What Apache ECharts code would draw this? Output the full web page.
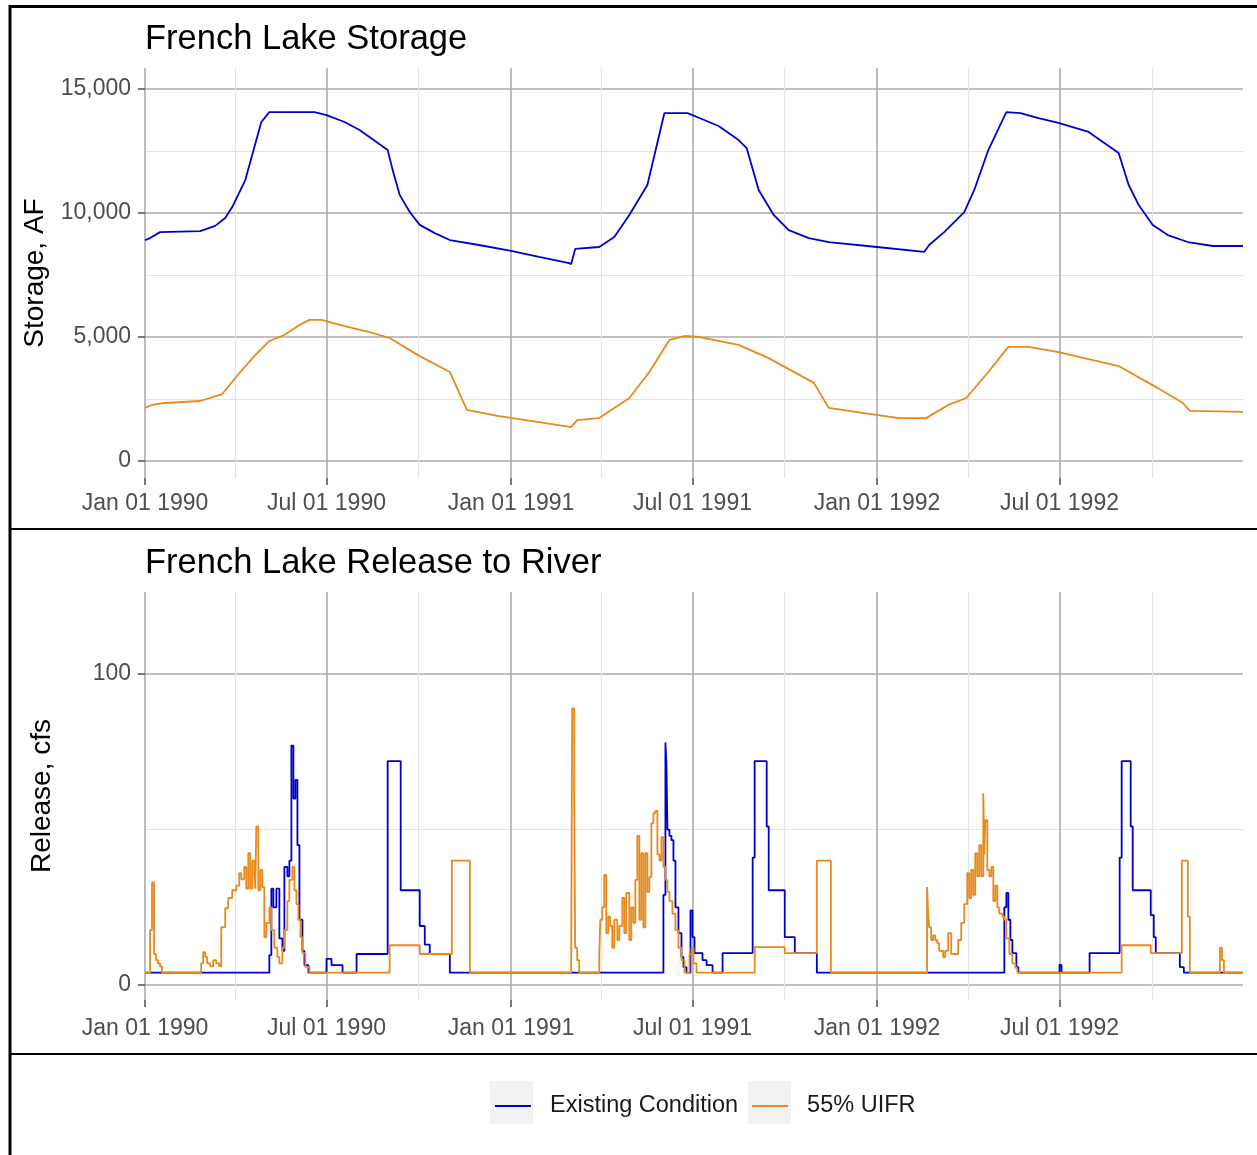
<!DOCTYPE html>
<html><head><meta charset="utf-8">
<script src="https://cdn.jsdelivr.net/npm/echarts@6/dist/echarts.min.js"></script>
<style>html,body{margin:0;padding:0;background:#fff}#c{width:1257px;height:1155px}</style>
</head><body><div id="c"></div>
<script>
// ---- DATA (x = day number counted from 1990-01-01) ----
const seriesNames = ['Existing Condition', '55% UIFR'];
const startDate = '1990-01-01';
const endDate = '1992-12-31';
const majorDateTicks = ['1990-01-01','1990-07-01','1991-01-01','1991-07-01','1992-01-01','1992-07-01'];
const minorDateTicks = ['1990-04-01','1990-10-01','1991-04-01','1991-10-01','1992-04-01','1992-10-01'];
const storageTicks = [0, 5000, 10000, 15000];
const storageMinorTicks = [2500, 7500, 12500];
const releaseTicks = [0, 100];
const releaseMinorTicks = [50];

const storageExisting = [
 [0,8900],[5,8990],[15,9230],[55,9270],[70,9480],[80,9800],[87,10240],[100,11330],[116,13670],[124,14070],
 [169,14070],[181,13950],[199,13670],[214,13350],[242,12540],[247,11730],[254,10730],[264,10040],[274,9520],
 [289,9190],[304,8910],[333,8710],[365,8470],[393,8230],[423,7980],[425,7940],[429,8550],[453,8630],[468,9030],
 [483,9920],[501,11130],[518,14030],[541,14030],[553,13830],[572,13510],[592,12940],[600,12620],[612,10930],
 [627,9920],[642,9310],[662,8990],[682,8830],[730,8630],[777,8430],[782,8710],[797,9230],[817,10040],[827,10930],
 [841,12540],[859,14070],[873,14030],[891,13830],[911,13630],[941,13270],[971,12420],[981,11130],[991,10320],
 [1005,9520],[1020,9110],[1040,8830],[1065,8670],[1095,8670]
];
const storageUIFR = [
 [0,2140],[7,2260],[20,2340],[55,2420],[77,2700],[95,3590],[110,4270],[124,4840],[139,5080],[154,5480],
 [164,5690],[176,5690],[199,5440],[224,5200],[244,4960],[274,4230],[304,3590],[321,2060],[353,1810],[393,1570],
 [425,1370],[431,1650],[453,1730],[483,2540],[503,3590],[523,4880],[538,5040],[553,5000],[592,4680],[622,4150],
 [667,3150],[682,2140],[722,1900],[752,1730],[779,1730],[801,2260],[819,2540],[841,3590],[861,4600],[881,4600],
 [911,4390],[971,3830],[1010,2940],[1035,2340],[1042,2020],[1095,1980]
];
const releaseExisting = [
 [0,4],[124,9.6],[126,31],[128,25],[131,31],[134,15],[137,11],[139,38],[142,35],[144,40],[146,77],[148,60],
 [150,66],[152,45],[154,21],[157,11],[159,6.4],[163,4],[181,8.4],[186,6.4],[197,4],[211,10],[242,72],[255,30.5],
 [274,19],[279,13],[284,10],[304,4],
 [517,29],[519,78],[520,71],[521,50],[523,48],[525,46.6],[527,40],[529,25],[532,16.7],[535,9],[537,5.8],[540,4],
 [544,24],[546,15.4],[548,10.3],[556,8],[560,6.4],[566,4],[576,10.3],[606,41],[608,72],[620,51],[622,30.5],
 [638,15.4],[648,10.3],[670,4],
 [857,25],[859,29.6],[861,21],[863,14.5],[865,10.3],[869,5.8],[871,4],[912,6.5],[914,4],[942,10.3],[972,41],
 [974,72],[983,51],[985,30.5],[1003,22.5],[1006,15.4],[1008,10.3],[1032,5.8],[1036,4],[1095,4]
];
const releaseUIFR = [
 [0,4],[5,17.7],[7,33],[9,10],[11,8],[13,7],[15,6],[17,4],[56,7],[58,10.6],[60,9],[62,7],[65,6],[68,8],[71,7],
 [74,6],[76,18.6],[80,24.7],[83,28],[87,30.5],[91,32],[94,36],[96,34],[99,38],[101,31],[103,42.4],[105,31],
 [107,40],[109,37],[110,31],[111,51],[113,30.5],[115,37],[117,31.5],[119,15.4],[121,20],[124,25],[126,17.7],
 [129,12],[132,9],[134,7],[137,12],[139,17.7],[142,27],[144,33.8],[147,38],[149,30.5],[151,26],[153,21],
 [155,15.4],[157,10.3],[160,5.8],[164,4],[244,12.8],[274,10],[306,40],[324,4],
 [425,5.8],[426,89],[428,62],[429,12],[431,8],[433,4],[453,9],[454,21],[456,25],[458,35.4],[460,16.7],[462,22],
 [464,19],[466,12],[468,21],[471,14.5],[473,19],[476,28],[478,16.7],[480,29.6],[483,14.5],[485,25],[487,20],
 [489,33.8],[491,48],[493,21],[495,42.4],[497,18.6],[499,42.4],[501,30],[503,34.7],[505,52],[507,55.3],[509,56],
 [511,42],[513,40],[515,47.6],[517,38],[519,33.8],[521,30],[523,27],[526,23],[529,17.7],[532,12],[535,8],[538,4],
 [543,10],[545,12],[547,7],[550,4],[608,12.2],[638,10.3],[670,40],[684,4],
 [780,31.5],[781,23],[782,18.6],[784,14.5],[786,16],[788,14.5],[790,13.5],[792,11],[796,9],[798,11],[801,16.7],
 [804,10],[808,10],[811,14.5],[814,20],[817,26],[820,36],[822,28],[824,37],[826,29],[828,42.4],[830,35],[832,45],
 [834,35],[836,61.7],[837,42],[838,53],[840,37],[842,35],[844,38],[846,27],[848,32],[850,25],[852,23],[855,22],
 [857,21],[859,15],[862,10],[865,7],[868,5.5],[870,4],[974,12.8],[1003,10.3],[1034,40],[1040,22],[1042,4],
 [1072,12],[1074,8],[1076,4],[1095,4]
];

// ---- helpers ----
const FONT = "'Liberation Sans', Arial, sans-serif";
const MON = ['Jan','Feb','Mar','Apr','May','Jun','Jul','Aug','Sep','Oct','Nov','Dec'];
function parseD(s){const p=s.split('-').map(Number);return new Date(p[0],p[1]-1,p[2]).getTime();}
const base = parseD(startDate);
function dayT(d){const b=new Date(base);return new Date(b.getFullYear(),b.getMonth(),b.getDate()+d).getTime();}
function fmtDate(v){const d=new Date(v);return MON[d.getMonth()]+' '+String(d.getDate()).padStart(2,'0')+' '+d.getFullYear();}
function toXY(arr){return arr.map(p=>[dayT(p[0]),p[1]]);}
const tMin = parseD(startDate), tMax = parseD(endDate);
const majT = majorDateTicks.map(parseD), minT = minorDateTicks.map(parseD);
const COLORS = ['#0000CD', '#E8891C'];
const MAJOR = '#ababab', MINOR = '#e3e3e3', TICK = '#4d4d4d', LBL = '#4d4d4d';

function xMinor(g){return {gridIndex:g,type:'value',min:tMin,max:tMax,position:'bottom',
  axisLine:{show:false,onZero:false},axisTick:{show:false,customValues:minT},
  axisLabel:{show:false,customValues:minT},splitLine:{show:true,lineStyle:{color:MINOR,width:1.2}}};}
function xMajor(g,margin){return {gridIndex:g,type:'value',min:tMin,max:tMax,position:'bottom',
  axisLine:{show:false,onZero:false},
  axisTick:{show:true,length:7,customValues:majT,lineStyle:{color:TICK,width:1.5}},
  axisLabel:{customValues:majT,formatter:fmtDate,fontSize:23,color:LBL,fontFamily:FONT,margin:margin,hideOverlap:false},
  splitLine:{show:true,lineStyle:{color:MAJOR,width:1.6}}};}
function yMinor(g,mn,mx,vals){return {gridIndex:g,type:'value',min:mn,max:mx,position:'right',
  axisLine:{show:false,onZero:false},axisTick:{show:false,customValues:vals},
  axisLabel:{show:false,customValues:vals},splitLine:{show:true,lineStyle:{color:MINOR,width:1.2}}};}
function yMajor(g,mn,mx,vals,name){return {gridIndex:g,type:'value',min:mn,max:mx,position:'left',
  name:name,nameLocation:'middle',nameGap:89,nameRotate:90,
  nameTextStyle:{fontSize:28,color:'#000',fontFamily:FONT},
  axisLine:{show:false,onZero:false},
  axisTick:{show:true,length:7,customValues:vals,lineStyle:{color:TICK,width:1.5}},
  axisLabel:{customValues:vals,formatter:v=>v.toLocaleString('en-US'),fontSize:23,color:LBL,fontFamily:FONT,margin:14},
  splitLine:{show:true,lineStyle:{color:MAJOR,width:1.6}}};}

const chart = echarts.init(document.getElementById('c'), null, {renderer:'canvas'});
chart.setOption({
  animation:false,
  backgroundColor:'#fff',
  title:[
    {text:'French Lake Storage',left:145,top:22,padding:0,textStyle:{fontSize:34.5,fontWeight:'normal',color:'#000',fontFamily:FONT}},
    {text:'French Lake Release to River',left:145,top:546,padding:0,textStyle:{fontSize:34.5,fontWeight:'normal',color:'#000',fontFamily:FONT}}
  ],
  grid:[
    {left:145,top:68,width:1098,height:410},
    {left:145,top:592,width:1098,height:408}
  ],
  xAxis:[xMinor(0),xMajor(0,14),xMinor(1),xMajor(1,17)],
  yAxis:[
    yMinor(0,-685,15847,storageMinorTicks),
    yMajor(0,-685,15847,storageTicks,'Storage, AF'),
    yMinor(1,-4.8,126.4,releaseMinorTicks),
    yMajor(1,-4.8,126.4,releaseTicks,'Release, cfs')
  ],
  legend:{data:seriesNames,left:495,top:1094,padding:0,icon:'rect',itemWidth:36,itemHeight:2,itemGap:14,
    textStyle:{fontSize:23.5,color:'#1a1a1a',fontFamily:FONT,padding:[0,0,0,14]}},
  graphic:[
    {type:'rect',shape:{x:490,y:1081,width:43,height:43},style:{fill:'#f2f2f2'},z:-1},
    {type:'rect',shape:{x:748,y:1081,width:43,height:43},style:{fill:'#f2f2f2'},z:-1},
    {type:'line',shape:{x1:10,y1:5,x2:10,y2:1155},style:{stroke:'#000',lineWidth:3},z:10},
    {type:'line',shape:{x1:9,y1:6.5,x2:1257,y2:6.5},style:{stroke:'#000',lineWidth:3},z:10},
    {type:'line',shape:{x1:10,y1:529,x2:1257,y2:529},style:{stroke:'#000',lineWidth:2},z:10},
    {type:'line',shape:{x1:10,y1:1054,x2:1257,y2:1054},style:{stroke:'#000',lineWidth:2},z:10}
  ],
  series:[
    {name:seriesNames[0],type:'line',xAxisIndex:1,yAxisIndex:1,showSymbol:false,data:toXY(storageExisting),
     lineStyle:{width:1.8,color:COLORS[0]},itemStyle:{color:COLORS[0]}},
    {name:seriesNames[1],type:'line',xAxisIndex:1,yAxisIndex:1,showSymbol:false,data:toXY(storageUIFR),
     lineStyle:{width:1.8,color:COLORS[1]},itemStyle:{color:COLORS[1]}},
    {name:seriesNames[0],type:'line',step:'end',xAxisIndex:3,yAxisIndex:3,showSymbol:false,data:toXY(releaseExisting),
     lineStyle:{width:1.8,color:COLORS[0]},itemStyle:{color:COLORS[0]}},
    {name:seriesNames[1],type:'line',step:'end',xAxisIndex:3,yAxisIndex:3,showSymbol:false,data:toXY(releaseUIFR),
     lineStyle:{width:1.8,color:COLORS[1]},itemStyle:{color:COLORS[1]}}
  ]
});
</script></body></html>
